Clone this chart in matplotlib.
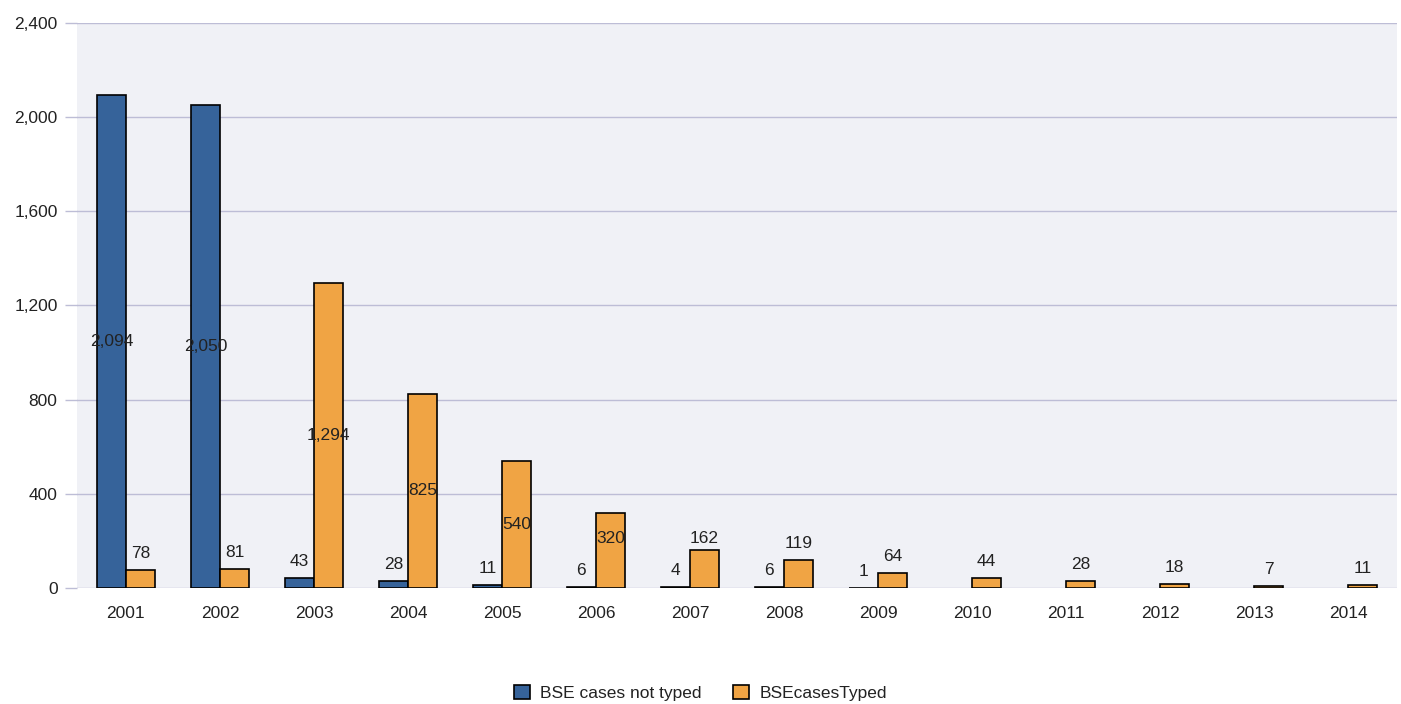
import matplotlib.pyplot as plt
import numpy as np
from matplotlib.ticker import FuncFormatter

plt.rcParams["font.family"] = "Liberation Sans"
plt.rcParams["font.size"] = 12.5

years = ['2001', '2002', '2003', '2004', '2005', '2006', '2007',
         '2008', '2009', '2010', '2011', '2012', '2013', '2014']
not_typed = [2094, 2050, 43, 28, 11, 6, 4, 6, 1, np.nan, np.nan, np.nan, np.nan, np.nan]
typed = [78, 81, 1294, 825, 540, 320, 162, 119, 64, 44, 28, 18, 7, 11]

blue = '#36639a'
orange = '#f0a444'
grid_col = '#bdbdd6'
text_col = '#222222'

fig = plt.figure(figsize=(14.01, 7.04), dpi=100)
ax = fig.add_axes([77 / 1401, 1 - 588 / 704, 1320 / 1401, 565 / 704])
ax.set_facecolor('#f0f1f6')

x = np.arange(len(years))
w = 0.31
ax.bar(x - w, not_typed, w, align='edge', color=blue, edgecolor='black',
       linewidth=1.2, label='BSE cases not typed', zorder=3)
ax.bar(x, typed, w, align='edge', color=orange, edgecolor='black',
       linewidth=1.2, label='BSEcasesTyped', zorder=3)


def label_pos(v):
    # big bars get the value in the middle, small ones just above
    return max(v / 2, min(v + 70, 210))


for xi, v in zip(x - w / 2, not_typed):
    if not np.isnan(v):
        ax.text(xi, label_pos(v), f'{v:,.0f}', ha='center', va='center',
                color=text_col, zorder=4)
for xi, v in zip(x + w / 2, typed):
    ax.text(xi, label_pos(v), f'{v:,.0f}', ha='center', va='center',
            color=text_col, zorder=4)

ax.set_xlim(-0.52, 13.52)
ax.set_ylim(0, 2400)
ax.set_yticks(np.arange(0, 2401, 400))
ax.yaxis.set_major_formatter(FuncFormatter(lambda v, p: f'{v:,.0f}'))
ax.set_xticks(x)
ax.set_xticklabels(years)
ax.yaxis.grid(True, color=grid_col, linewidth=1.0, zorder=1)
ax.set_axisbelow(True)
for s in ax.spines.values():
    s.set_visible(False)
ax.tick_params(axis='y', length=9, color=grid_col, width=1.0, pad=5,
               labelcolor=text_col)
ax.tick_params(axis='x', length=0, pad=13, labelcolor=text_col)

fig.legend(loc='center', bbox_to_anchor=(0.5, 1 - 693 / 704), ncol=2,
           frameon=False, handlelength=0.9, handleheight=0.9,
           handletextpad=0.6, columnspacing=1.8, labelcolor=text_col)

fig.savefig('out.png', dpi=100)
